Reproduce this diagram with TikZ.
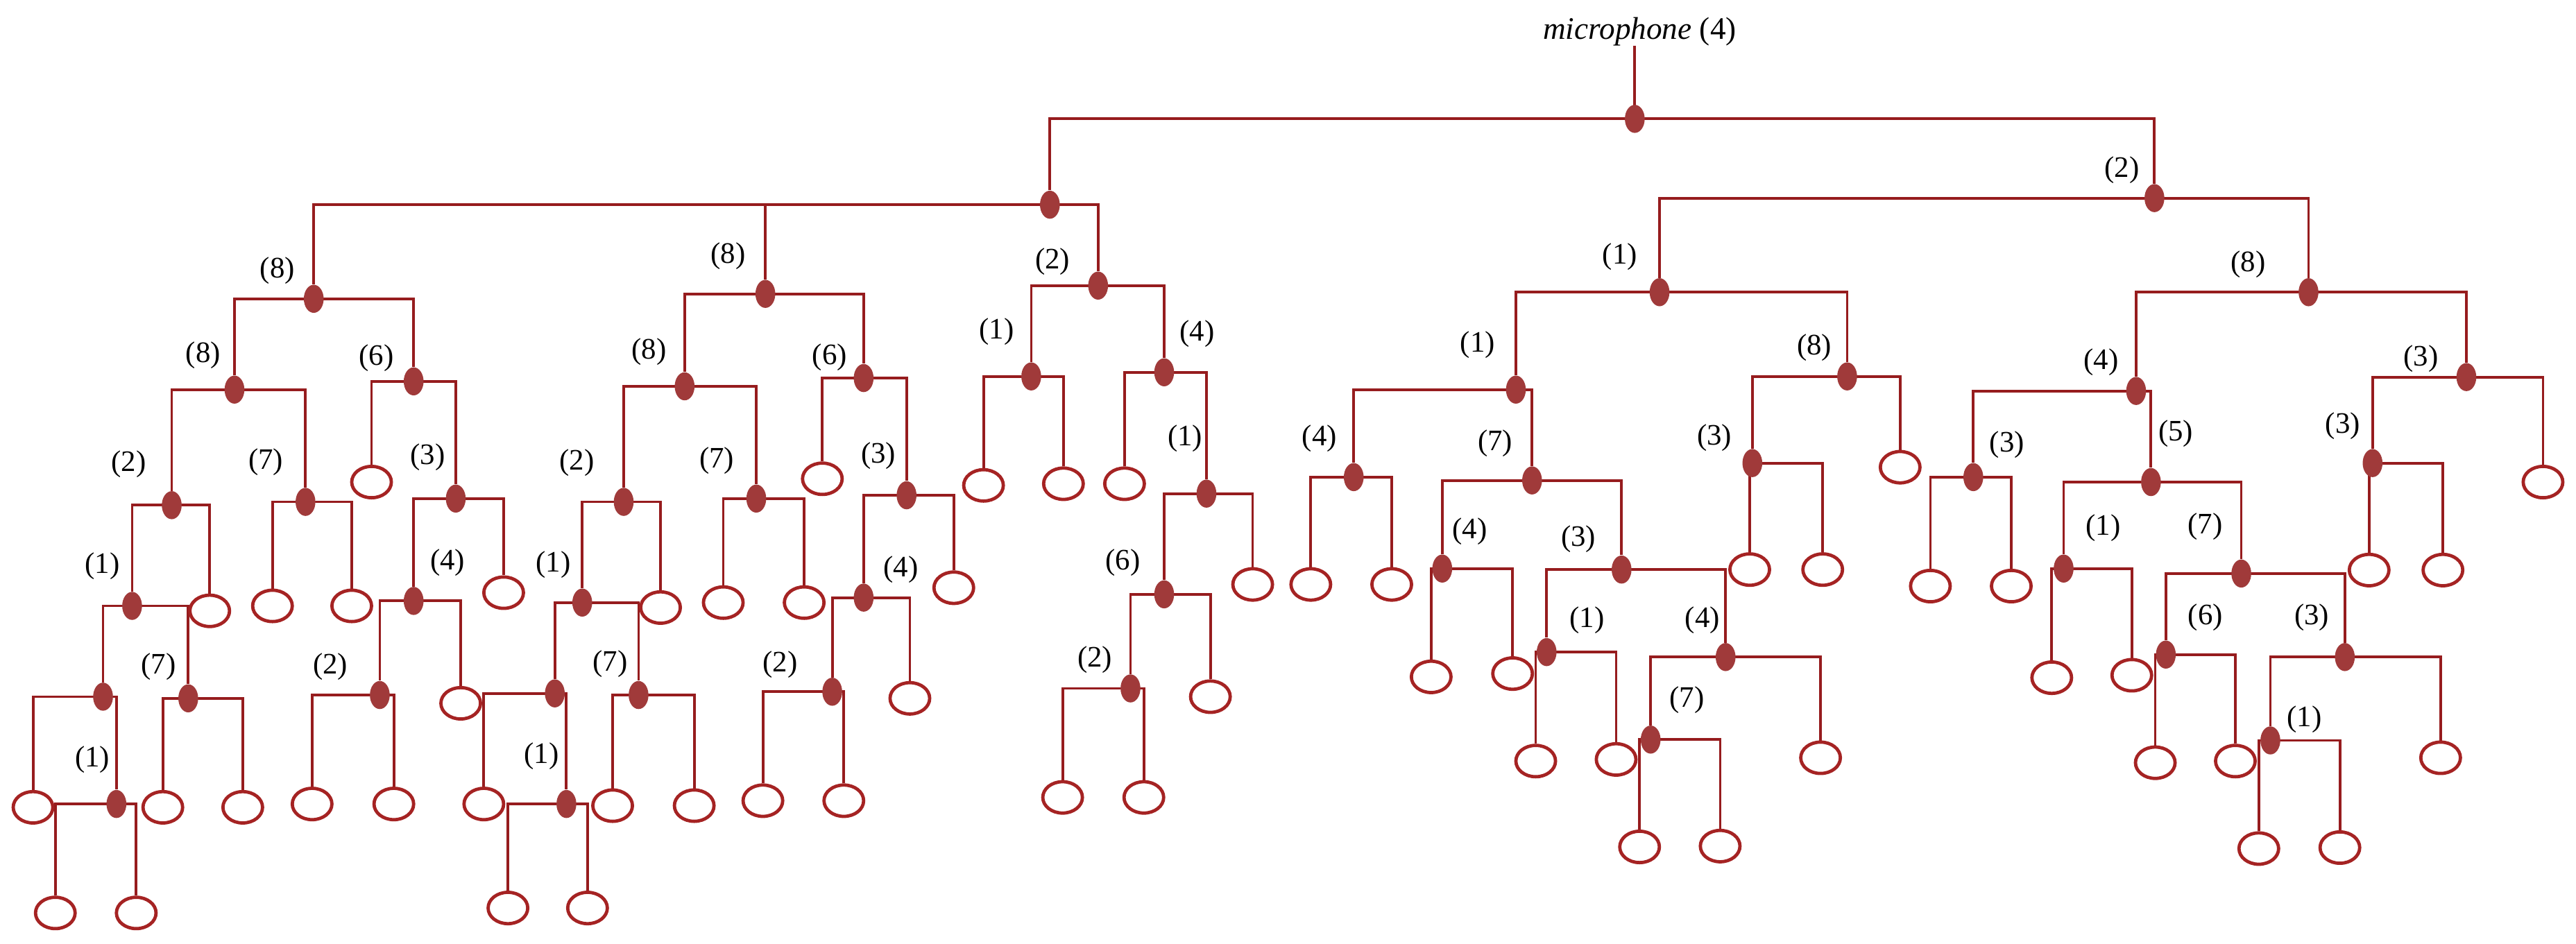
\documentclass[tikz,border=0pt]{standalone}
\usepackage{fontspec}
\setmainfont{Liberation Serif}
\usetikzlibrary{shapes.geometric}
\pgfdeclarelayer{bg}
\pgfsetlayers{bg,main}
\definecolor{ln}{RGB}{150,28,30}
\definecolor{df}{RGB}{160,58,58}
\definecolor{lc}{RGB}{165,35,35}
\tikzset{
 dot/.style={ellipse,fill=df,inner sep=0pt,minimum width=12pt,minimum height=17pt},
 leaf/.style={ellipse,draw=lc,line width=2pt,fill=white,inner sep=0pt,minimum width=24pt,minimum height=19pt},
 lab/.style={font=\fontsize{18}{20}\selectfont,inner sep=0pt},
 edge/.style={draw=ln,line width=1.6pt}
}
\newcommand\D[3]{\node[dot] (#1) at (#2,#3) {};}
\newcommand\Lf[3]{\node[leaf] (#1) at (#2,#3) {};}
\newcommand\Lb[4]{\node[lab] (l#1) at (#2,#3) {(#4)};}
\newcommand\kids[2]{\foreach \c in {#2}{\draw[edge] (#1.center) -| (\c.north);}}
\begin{document}
\begin{tikzpicture}[x=1pt,y=-1pt]
\useasboundingbox (0,0) rectangle (1560,571.4);
\node[lab,font=\fontsize{19}{21}\selectfont] (t) at (993,19) {\textit{microphone} (4)};
\D{r}{990}{72}
\D{A}{635.8}{124}
\D{B}{1304.7}{120} \Lb{B}{1285}{103}{2}
% left
\D{L1}{190}{181} \Lb{L1}{168}{164}{8}
\D{L1a}{142}{236} \Lb{L1a}{123}{215}{8}
\D{L1b}{250.5}{231} \Lb{L1b}{228}{217}{6}
\D{a1}{104}{306} \Lb{a1}{78}{281}{2}
\D{a2}{185}{304} \Lb{a2}{161}{280}{7}
\D{a11}{80}{367} \Lb{a11}{62}{343}{1}
\Lf{a12}{127}{370}
\D{a111}{62.4}{422}
\D{a112}{114}{423} \Lb{a112}{96}{404}{7}
\Lf{z1}{20}{489}
\D{a1112}{70.5}{487} \Lb{a1112}{56}{460}{1}
\Lf{z2}{33.5}{553} \Lf{z3}{82.5}{553}
\Lf{z4}{98.6}{489} \Lf{z5}{147}{489}
\Lf{z6}{165}{367} \Lf{z7}{213}{367}
\Lf{z8}{225}{292}
\D{b2}{276}{302} \Lb{b2}{259}{277}{3}
\D{b21}{250.5}{364} \Lb{b21}{271}{341}{4}
\Lf{z9}{305}{359}
\D{b211}{230}{421} \Lb{b211}{200}{404}{2}
\Lf{z10}{279}{426}
\Lf{z11}{189}{487} \Lf{z12}{238.5}{487}
% middle
\D{M}{463.5}{178} \Lb{M}{441}{155}{8}
\D{Ma}{414.6}{234} \Lb{Ma}{393}{213}{8}
\D{Mb}{523}{229} \Lb{Mb}{502.4}{216.5}{6}
\D{Ma1}{377.7}{304} \Lb{Ma1}{349.4}{280.5}{2}
\D{Ma2}{458}{302} \Lb{Ma2}{434}{279}{7}
\D{Ma11}{352.6}{365} \Lb{Ma11}{335}{342}{1}
\Lf{m1}{400}{368}
\D{Ma111}{336}{420}
\D{Ma112}{386.7}{421} \Lb{Ma112}{369.6}{402}{7}
\Lf{m2}{293}{487}
\D{Ma1112}{343}{487} \Lb{Ma1112}{328}{458}{1}
\Lf{m3}{307.6}{550} \Lf{m4}{355.8}{550}
\Lf{m5}{371}{488} \Lf{m6}{420.4}{488}
\Lf{m7}{438}{365} \Lf{m8}{487}{365}
\Lf{m9}{498}{290}
\D{Mb2}{549}{300} \Lb{Mb2}{532}{276}{3}
\D{Mb21}{523}{362} \Lb{Mb21}{545.5}{345}{4}
\Lf{m10}{577.6}{356}
\D{Mb211}{504}{419} \Lb{Mb211}{472.5}{402.5}{2}
\Lf{m11}{551}{423}
\Lf{m12}{462}{485} \Lf{m13}{511}{485}
% C
\D{C}{665}{173} \Lb{C}{637.4}{158.5}{2}
\D{C1}{624.5}{228} \Lb{C1}{603.6}{201}{1}
\D{C2}{705}{225.5} \Lb{C2}{725}{202}{4}
\Lf{c1}{595.6}{294} \Lf{c2}{644}{293}
\Lf{c3}{681}{293}
\D{C22}{730.6}{299} \Lb{C22}{717.7}{265.6}{1}
\D{C221}{705}{360} \Lb{C221}{680}{341}{6}
\Lf{c4}{758.6}{354}
\D{C2211}{684.6}{417} \Lb{C2211}{663}{399.5}{2}
\Lf{c5}{733}{422}
\Lf{c6}{643.5}{483} \Lf{c7}{692.7}{483}
% R1
\D{R1}{1005}{177} \Lb{R1}{981}{155.6}{1}
\D{R1a}{918}{236} \Lb{R1a}{894.8}{209}{1}
\D{R1b}{1118.6}{228} \Lb{R1b}{1098.7}{210.6}{8}
\D{R1a1}{819.8}{289} \Lb{R1a1}{799}{265.6}{4}
\D{R1a2}{927.8}{291} \Lb{R1a2}{905.5}{268.6}{7}
\Lf{e1}{793.8}{354} \Lf{e2}{842.8}{354}
\D{R1a21}{873.4}{344.4} \Lb{R1a21}{890}{322}{4}
\D{R1a22}{982}{345} \Lb{R1a22}{955.9}{326.6}{3}
\Lf{e3}{866.7}{410} \Lf{e4}{916}{408}
\D{R1a221}{936.6}{395} \Lb{R1a221}{961}{375.7}{1}
\D{R1a222}{1045}{398} \Lb{R1a222}{1031}{375.7}{4}
\Lf{e5}{930}{461} \Lf{e6}{978.7}{460}
\D{R1a2221}{999.6}{448} \Lb{R1a2221}{1021.6}{424}{7}
\Lf{e7}{1102.5}{459}
\Lf{e8}{992.9}{513} \Lf{e9}{1041.7}{512.5}
\D{R1b1}{1061.2}{280.5} \Lb{R1b1}{1038.2}{265}{3}
\Lf{e10}{1150.7}{283}
\Lf{e11}{1059.6}{345} \Lf{e12}{1103.8}{345}
% R2
\D{R2}{1398}{177} \Lb{R2}{1361.4}{160}{8}
\D{R2a}{1293.6}{236.8} \Lb{R2a}{1272.4}{219.5}{4}
\D{R2b}{1493.6}{228.4} \Lb{R2b}{1466}{217.4}{3}
\D{R2a1}{1195}{289} \Lb{R2a1}{1215.4}{269.5}{3}
\D{R2a2}{1302.6}{292} \Lb{R2a2}{1317.6}{262.6}{5}
\Lf{f1}{1169}{355} \Lf{f2}{1218}{355}
\D{R2a21}{1249.7}{344.4} \Lb{R2a21}{1273.7}{319.7}{1}
\D{R2a22}{1357.3}{347.4} \Lb{R2a22}{1335.4}{319}{7}
\Lf{f3}{1242.5}{410.5} \Lf{f4}{1291}{409}
\D{R2a221}{1311.6}{396.5} \Lb{R2a221}{1335.6}{374}{6}
\D{R2a222}{1420}{398} \Lb{R2a222}{1400}{374}{3}
\Lf{f5}{1305.2}{462} \Lf{f6}{1353.7}{461}
\D{R2a2221}{1374.9}{448.5} \Lb{R2a2221}{1395.5}{435.7}{1}
\Lf{f7}{1478}{459}
\Lf{f8}{1367.9}{514} \Lf{f9}{1417}{513.4}
\D{R2b1}{1436.8}{280.5} \Lb{R2b1}{1418.7}{258}{3}
\Lf{f10}{1540}{292}
\Lf{f11}{1434.7}{345.3} \Lf{f12}{1479.4}{345.3}
\begin{pgfonlayer}{bg}
\draw[edge] (r.center) -- (r |- t.south);
\kids{r}{A,B}
\kids{A}{L1,M,C}
\kids{L1}{L1a,L1b} \kids{L1a}{a1,a2} \kids{a1}{a11,a12} \kids{a11}{a111,a112}
\kids{a111}{z1,a1112} \kids{a1112}{z2,z3} \kids{a112}{z4,z5} \kids{a2}{z6,z7}
\kids{L1b}{z8,b2} \kids{b2}{b21,z9} \kids{b21}{b211,z10} \kids{b211}{z11,z12}
\kids{M}{Ma,Mb} \kids{Ma}{Ma1,Ma2} \kids{Ma1}{Ma11,m1} \kids{Ma11}{Ma111,Ma112}
\kids{Ma111}{m2,Ma1112} \kids{Ma1112}{m3,m4} \kids{Ma112}{m5,m6} \kids{Ma2}{m7,m8}
\kids{Mb}{m9,Mb2} \kids{Mb2}{Mb21,m10} \kids{Mb21}{Mb211,m11} \kids{Mb211}{m12,m13}
\kids{C}{C1,C2} \kids{C1}{c1,c2} \kids{C2}{c3,C22} \kids{C22}{C221,c4}
\kids{C221}{C2211,c5} \kids{C2211}{c6,c7}
\kids{B}{R1,R2} \kids{R1}{R1a,R1b} \kids{R1a}{R1a1,R1a2} \kids{R1a1}{e1,e2}
\kids{R1a2}{R1a21,R1a22} \kids{R1a21}{e3,e4} \kids{R1a22}{R1a221,R1a222}
\kids{R1a221}{e5,e6} \kids{R1a222}{R1a2221,e7} \kids{R1a2221}{e8,e9}
\kids{R1b}{R1b1,e10} \kids{R1b1}{e11,e12}
\kids{R2}{R2a,R2b} \kids{R2a}{R2a1,R2a2} \kids{R2a1}{f1,f2} \kids{R2a2}{R2a21,R2a22}
\kids{R2a21}{f3,f4} \kids{R2a22}{R2a221,R2a222} \kids{R2a221}{f5,f6}
\kids{R2a222}{R2a2221,f7} \kids{R2a2221}{f8,f9} \kids{R2b}{R2b1,f10} \kids{R2b1}{f11,f12}
\end{pgfonlayer}
\end{tikzpicture}
\end{document}
